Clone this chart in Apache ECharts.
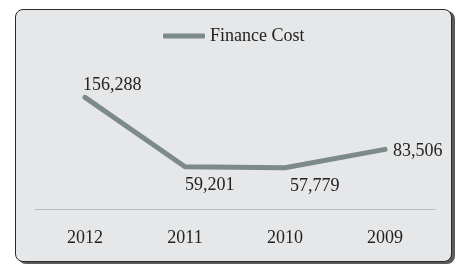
<!DOCTYPE html>
<html>
<head>
<meta charset="utf-8">
<script src="https://cdn.jsdelivr.net/npm/echarts@6/dist/echarts.min.js"></script>
<style>
  html, body { margin: 0; padding: 0; background: #fff; }
  #frame {
    position: absolute; left: 15px; top: 9px; width: 435px; height: 251px;
    background: #e6e7e9; border: 1.5px solid #2a2a2a; border-radius: 8px;
    box-shadow: 3px 2px 0 #5a5a5a;
  }
  #chart { position: absolute; left: 0; top: 0; width: 456px; height: 264px; }
</style>
</head>
<body>
<div id="frame"></div>
<div id="chart"></div>
<script>
  const years = ['2012', '2011', '2010', '2009'];
  const financeCost = [156288, 59201, 57779, 83506];
  const labelSpots = ['top', 'bottom', 'bottom', 'right'];
  const labelShifts = [[-2, 4], [0, 3], [5, 3], [1, 2]];

  const serif = '"Liberation Serif", "Times New Roman", serif';
  const lineColor = '#7c8b87';
  const chart = echarts.init(document.getElementById('chart'), null, { renderer: 'canvas' });

  const points = financeCost.map(function (v, i) {
    const spot = labelSpots[i];
    const label = { position: spot, offset: labelShifts[i] };
    if (spot !== 'right') { label.align = 'left'; }
    return { value: v, label: label };
  });

  chart.setOption({
    animation: false,
    legend: {
      top: 22,
      left: 158,
      icon: 'roundRect',
      itemWidth: 42,
      itemHeight: 5,
      itemGap: 6,
      itemStyle: { color: lineColor, borderWidth: 0 },
      textStyle: { fontFamily: serif, fontSize: 18, color: '#222' },
      data: ['Finance Cost']
    },
    grid: { left: 35, right: 21, top: 69, bottom: 55 },
    xAxis: {
      type: 'category',
      data: years,
      boundaryGap: true,
      axisLine: { lineStyle: { color: '#b9babc', width: 1 } },
      axisTick: { show: false },
      axisLabel: { margin: 20, fontFamily: serif, fontSize: 18, color: '#222' }
    },
    yAxis: {
      type: 'value',
      min: 0,
      max: 196000,
      show: false,
      splitLine: { show: false }
    },
    series: [{
      name: 'Finance Cost',
      type: 'line',
      data: points,
      showSymbol: true,
      symbol: 'circle',
      symbolSize: 4,
      itemStyle: { color: lineColor, borderWidth: 0 },
      color: lineColor,
      lineStyle: { width: 5, color: lineColor, cap: 'round', join: 'round' },
      label: {
        show: true,
        fontFamily: serif,
        fontSize: 18,
        color: '#222',
        formatter: function (p) { return p.value.toLocaleString('en-US'); }
      }
    }]
  });
</script>
</body>
</html>
